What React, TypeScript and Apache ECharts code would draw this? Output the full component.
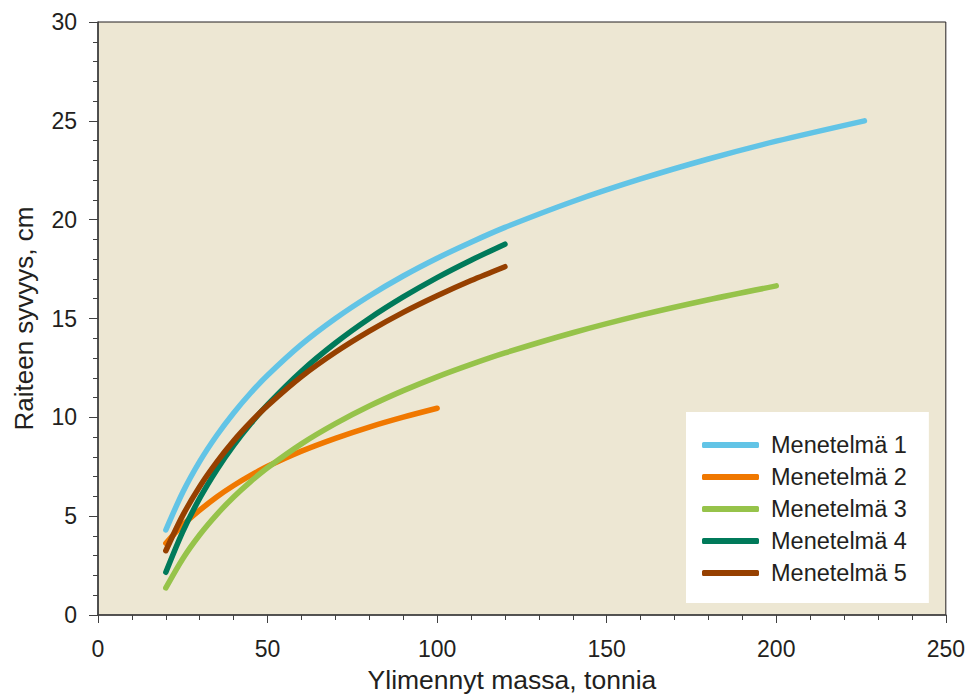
import React, { useEffect, useRef } from "react";
import * as echarts from "echarts";

const seriesNames = ["Menetelmä 1", "Menetelmä 2", "Menetelmä 3", "Menetelmä 4", "Menetelmä 5"];
const colors = ["#62c4e6", "#f07800", "#96c34a", "#007a5a", "#964000"];

const xM1 = [20, 25, 30, 35, 40, 45, 50, 60, 70, 80, 90, 100, 110, 120, 140, 160, 180, 200, 226];
const yM1 = [4.3, 6.21, 7.77, 9.08, 10.22, 11.23, 12.13, 13.69, 15.0, 16.14, 17.15, 18.05, 18.86, 19.61, 20.92, 22.06, 23.07, 23.97, 25.0];

const xM2 = [20, 25, 30, 35, 40, 45, 50, 60, 70, 80, 90, 100];
const yM2 = [3.63, 4.55, 5.3, 5.97, 6.55, 7.06, 7.52, 8.29, 8.94, 9.51, 10.01, 10.46];

const xM3 = [20, 25, 30, 35, 40, 45, 50, 60, 70, 80, 90, 100, 110, 120, 140, 160, 180, 200];
const yM3 = [1.37, 2.85, 4.06, 5.08, 5.97, 6.75, 7.45, 8.66, 9.68, 10.57, 11.35, 12.05, 12.68, 13.26, 14.28, 15.17, 15.95, 16.65];

const xM4 = [20, 25, 30, 35, 40, 45, 50, 60, 70, 80, 90, 100, 110, 120];
const yM4 = [2.16, 4.22, 5.91, 7.34, 8.58, 9.67, 10.64, 12.33, 13.76, 15.0, 16.09, 17.07, 17.95, 18.76];

const xM5 = [20, 25, 30, 35, 40, 45, 50, 60, 70, 80, 90, 100, 110, 120];
const yM5 = [3.25, 5.04, 6.5, 7.73, 8.81, 9.75, 10.59, 12.06, 13.29, 14.36, 15.31, 16.15, 16.92, 17.62];

const xTickInterval = 50;
const yTickInterval = 5;

const xs = [xM1, xM2, xM3, xM4, xM5];
const ys = [yM1, yM2, yM3, yM4, yM5];

const FONT = "'Liberation Sans', Arial, Helvetica, sans-serif";
const TEXT = "#231f20";
const AXIS = "#404040";

export default function App() {
  const ref = useRef<HTMLDivElement>(null);
  useEffect(() => {
    if (!ref.current) return;
    const chart = echarts.init(ref.current, undefined, { renderer: "svg" });
    const series = seriesNames.map((name, i) => ({
      name,
      type: "line",
      data: xs[i].map((x, j) => [x, ys[i][j]]),
      smooth: 0.3,
      symbol: "none",
      lineStyle: { color: colors[i], width: 5.5, cap: "round" },
      itemStyle: { color: colors[i] },
      z: i === 1 ? 2 : 3,
    }));
    chart.setOption({
      animation: false,
      backgroundColor: "#ffffff",
      textStyle: { fontFamily: FONT },
      grid: {
        left: 98,
        right: 18,
        top: 22,
        bottom: 79,
        show: true,
        backgroundColor: "#ede7d3",
        borderColor: TEXT,
        borderWidth: 1,
      },
      xAxis: {
        type: "value",
        min: 0,
        max: 250,
        interval: xTickInterval,
        name: "Ylimennyt massa, tonnia",
        nameLocation: "middle",
        nameGap: 51,
        nameTextStyle: { fontSize: 26.5, color: TEXT, fontFamily: FONT, padding: [0, 20, 0, 0] },
        axisLine: { show: true, onZero: false, lineStyle: { color: AXIS, width: 1.6 } },
        axisTick: { show: true, length: 8, lineStyle: { color: AXIS, width: 1 } },
        minorTick: { show: true, splitNumber: 5, length: 5, lineStyle: { color: AXIS, width: 1 } },
        splitLine: { show: false },
        axisLabel: { fontSize: 23, color: TEXT, margin: 22, fontFamily: FONT },
      },
      yAxis: {
        type: "value",
        min: 0,
        max: 30,
        interval: yTickInterval,
        name: "Raiteen syvyys, cm",
        nameLocation: "middle",
        nameGap: 61,
        nameRotate: 90,
        nameTextStyle: { fontSize: 26, color: TEXT, fontFamily: FONT },
        axisLine: { show: true, onZero: false, lineStyle: { color: AXIS, width: 1.6 } },
        axisTick: { show: true, length: 9, lineStyle: { color: AXIS, width: 1 } },
        minorTick: { show: true, splitNumber: 5, length: 5, lineStyle: { color: AXIS, width: 1 } },
        splitLine: { show: false },
        axisLabel: { fontSize: 23, color: TEXT, margin: 21, fontFamily: FONT },
      },
      legend: {
        orient: "vertical",
        left: 686,
        top: 412,
        backgroundColor: "#ffffff",
        padding: [20, 22, 17, 16],
        itemGap: 6,
        itemWidth: 57,
        itemHeight: 6,
        icon: "roundRect",
        data: seriesNames,
        textStyle: {
          fontSize: 23.5,
          color: TEXT,
          fontFamily: FONT,
          lineHeight: 26,
          padding: [0, 0, 0, 7],
        },
      },
      series,
    });
    return () => chart.dispose();
  }, []);
  return (
    <div
      ref={ref}
      style={{ position: "fixed", left: 0, top: 0, width: 968, height: 698 }}
    />
  );
}
